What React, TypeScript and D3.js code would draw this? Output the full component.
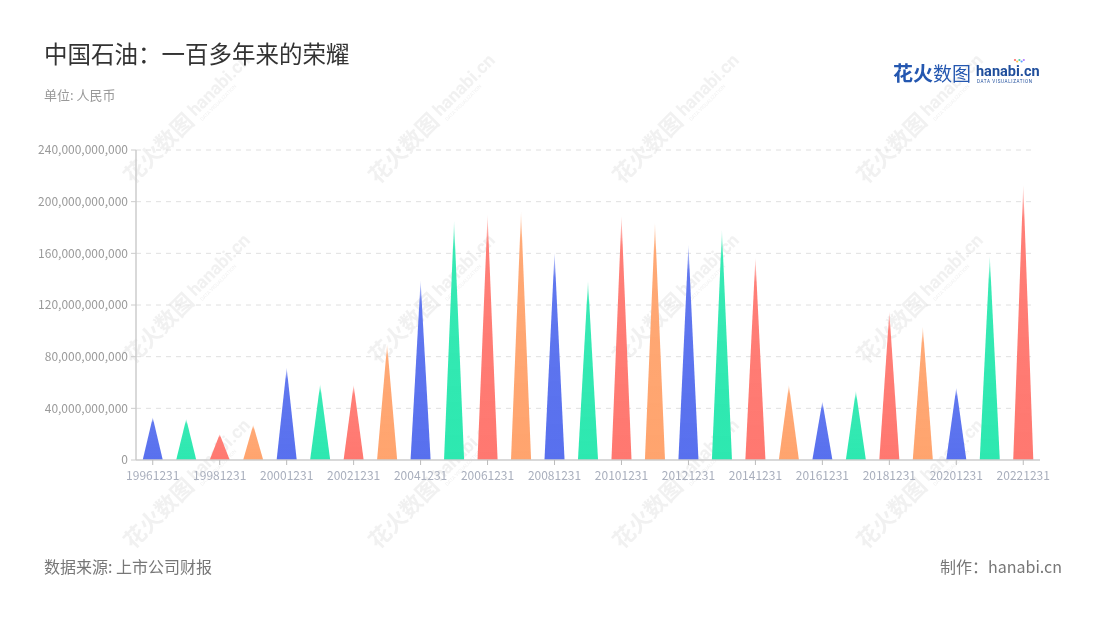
import React from "react";
import * as d3 from "d3";

const categories = [
  "19961231","19971231","19981231","19991231","20001231","20011231","20021231","20031231","20041231",
  "20051231","20061231","20071231","20081231","20091231","20101231","20111231","20121231","20131231",
  "20141231","20151231","20161231","20171231","20181231","20191231","20201231","20211231","20221231",
];
const values = [
  33.0e9, 31.7e9, 19.9e9, 27.1e9, 71.5e9, 58.6e9, 58.1e9, 89.5e9, 138.8e9,
  185.3e9, 189.7e9, 192.3e9, 160.5e9, 138.8e9, 188.9e9, 183.7e9, 166.5e9, 178.1e9,
  156.6e9, 58.1e9, 45.2e9, 53.4e9, 114.8e9, 103.2e9, 56.0e9, 157.9e9, 212.9e9,
];
const yTicks = [0, 40e9, 80e9, 120e9, 160e9, 200e9, 240e9];
const palette = ["#5870ee", "#2de8b0", "#ff7870", "#ffa46e"];

const W = 1100, H = 620;
const left = 136, right = 1040, top = 150, bottom = 460;

export default function App() {
  const x = d3.scaleBand<string>().domain(categories).range([left, right]).paddingInner(0).paddingOuter(0);
  const y = d3.scaleLinear().domain([0, 240e9]).range([bottom, top]);
  const bw = x.bandwidth();
  const triW = bw * 0.6;
  const fmt = d3.format(",");
  const cjk = "'Noto Sans CJK SC', 'Noto Sans', sans-serif";
  const wmCols = [133, 378, 622, 866];
  const wmRows = [185, 365, 550];

  return (
    <svg width={W} height={H} style={{ position: "absolute", left: 0, top: 0, background: "#fff" }} fontFamily={cjk}>
      <defs>
        {palette.map((c, i) => (
          <linearGradient key={i} id={`g${i}`} x1="0" y1="0" x2="0" y2="1">
            <stop offset="0" stopColor={c} stopOpacity={0.25} />
            <stop offset="0.12" stopColor={c} stopOpacity={0.95} />
            <stop offset="1" stopColor={c} stopOpacity={1} />
          </linearGradient>
        ))}
      </defs>
      <rect x={0} y={0} width={W} height={H} fill="#fff" />

      {/* watermarks */}
      <g opacity={0.45}>
        {wmRows.map((ry) =>
          wmCols.map((cx) => (
            <g key={`${cx}-${ry}`} transform={`translate(${cx},${ry}) rotate(-45)`}>
              <text x={0} y={0} fontSize={22} fontWeight={700} fill="#e0e0e0">花火数图</text>
              <text x={92} y={-4} fontSize={18} fontWeight={700} fill="#e0e0e0" fontFamily="Roboto, sans-serif">hanabi.cn</text>
              <text x={94} y={4} fontSize={5} fill="#e0e0e0" fontFamily="Roboto, sans-serif">DATA VISUALIZATION</text>
            </g>
          ))
        )}
      </g>

      {/* title */}
      <text x={44} y={63} fontSize={23.5} fill="#333">中国石油：一百多年来的荣耀</text>
      <text x={44} y={100} fontSize={13} fill="#999">单位: 人民币</text>

      {/* logo */}
      <text x={893} y={81} fontSize={20} fontWeight={700} fill="#2457b0">花火</text>
      <text x={933} y={81} fontSize={19} fill="#2457b0">数图</text>
      <text x={976} y={76} fontSize={14.5} fontWeight={700} fill="#1f4e9c" fontFamily="Roboto, sans-serif">hanabi.cn</text>
      <text x={977} y={82.5} fontSize={4.6} fill="#1f4e9c" fontFamily="Roboto, sans-serif" letterSpacing={0.6}>DATA VISUALIZATION</text>
      {["#ff6b6b", "#ffc24b", "#4cd4a0", "#5aa0ff", "#b37cff"].map((c, i) => (
        <circle key={i} cx={1015 + i * 2.2} cy={60 + (i % 2) * 1.5} r={1.1} fill={c} />
      ))}

      {/* grid */}
      {yTicks.map((t) => (
        <g key={t}>
          {t > 0 && (
            <line x1={left} x2={1036} y1={y(t)} y2={y(t)} stroke="#e0e0e0" strokeDasharray="5,5" />
          )}
          <line x1={left - 5} x2={left} y1={y(t)} y2={y(t)} stroke="#ccc" />
          <text x={left - 8} y={y(t)} dy="0.35em" textAnchor="end" fontSize={12} fill="#9a9a9a">
            {fmt(t)}
          </text>
        </g>
      ))}

      {/* bars */}
      {categories.map((c, i) => {
        const cx = (x(c) as number) + bw / 2;
        const y0 = y(0);
        const y1 = y(values[i]);
        const path = `M${cx - triW / 2},${y0} L${cx},${y1} L${cx + triW / 2},${y0} Z`;
        return <path key={c} d={path} fill={`url(#g${i % 4})`} />;
      })}

      {/* axes */}
      <line x1={left} x2={left} y1={top} y2={bottom} stroke="#ccc" strokeWidth={1.5} />
      <line x1={left} x2={right} y1={bottom} y2={bottom} stroke="#ccc" strokeWidth={1.5} />
      {categories.map((c, i) =>
        i % 2 === 0 ? (
          <g key={c}>
            <line x1={(x(c) as number) + bw / 2} x2={(x(c) as number) + bw / 2} y1={bottom} y2={bottom + 5} stroke="#bbb" />
            <text x={(x(c) as number) + bw / 2} y={bottom + 20} textAnchor="middle" fontSize={12} fill="#a9afbd">
              {c}
            </text>
          </g>
        ) : null
      )}

      {/* footer */}
      <text x={44} y={573} fontSize={16} fill="#777">数据来源: 上市公司财报</text>
      <text x={1062} y={573} fontSize={16} fill="#777" textAnchor="end">制作：hanabi.cn</text>
    </svg>
  );
}
